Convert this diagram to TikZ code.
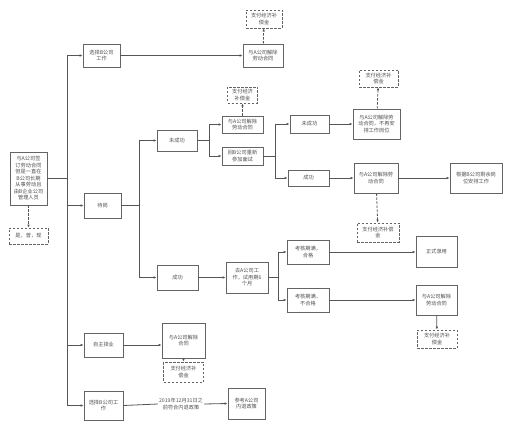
\documentclass[tikz,border=0pt]{standalone}
\usepackage{fontspec}
\newfontfamily\cjk{Noto Sans CJK SC}
\usetikzlibrary{arrows.meta, positioning, calc}
\definecolor{boxgray}{RGB}{100,100,100}
\definecolor{linegray}{RGB}{85,85,85}
\definecolor{textgray}{RGB}{80,80,80}
\tikzset{
    flowbox/.style={rectangle, draw=boxgray, fill=white, line width=0.8pt, align=center, font=\cjk\fontsize{5.2}{6.5}\selectfont, text=textgray, inner sep=1pt},
    paybox/.style={flowbox, dash pattern=on 2.5pt off 1.5pt},
    boxsize/.style 2 args={minimum width=#1pt, minimum height=#2pt},
    flowline/.style={linegray, line width=0.8pt},
    flowarrow/.style={-{Latex[length=3pt,width=2.6pt]}, flowline},
    payarrow/.style={flowarrow, dash pattern=on 2.5pt off 1.5pt},
    flowlabel/.style={font=\cjk\fontsize{5.2}{6.5}\selectfont, text=textgray, align=center, inner sep=1pt}
}

\begin{document}
\begin{tikzpicture}[x=1pt, y=-1pt]
\useasboundingbox (0,0) rectangle (511,430);

% root and its note
\node[flowbox, boxsize={37}{53}] (root) at (28.5,178.5) {与A公司签\\订劳动合同\\但是一直在\\B公司长期\\从事劳动且\\由B企业公司\\管理人员};
\node[paybox, boxsize={39}{16}] (rootnote) at (28.5,236) {是，曾，现};

% first level
\node[flowbox, boxsize={37}{23}] (selB1) at (101.5,55.5) {选择B公司\\工作};
\node[flowbox, boxsize={37}{25}] (wait) at (102.5,205.5) {待岗};
\node[flowbox, boxsize={39}{24}] (self) at (103.5,345) {自主择业};
\node[flowbox, boxsize={39}{29}] (selB2) at (103.5,405.5) {选择B公司工\\作};

% top branch
\node[flowbox, boxsize={40}{23}] (endA1) at (263,55.5) {与A公司解除\\劳动合同};
\node[paybox, boxsize={36}{18}] (pay1) at (264,19) {支付经济补\\偿金};

% waiting branch
\node[flowbox, boxsize={40}{21}] (fail1) at (177,140.5) {未成功};
\node[flowbox, boxsize={41}{17}] (endA2) at (242.5,124.5) {与A公司解除\\劳动合同};
\node[paybox, boxsize={30}{16}] (pay2) at (242.5,95) {支付经济\\补偿金};
\node[flowbox, boxsize={41}{18}] (retry) at (242.5,156) {回B公司重新\\参加面试};
\node[flowbox, boxsize={39}{18}] (fail2) at (309.5,124) {未成功};
\node[flowbox, boxsize={47}{30}] (endA3) at (376.5,124) {与A公司解除劳\\动合同，不再安\\排工作岗位};
\node[paybox, boxsize={39}{17}] (pay3) at (378.5,78.5) {支付经济补\\偿金};
\node[flowbox, boxsize={41}{16}] (succ2) at (308.5,178) {成功};
\node[flowbox, boxsize={44}{30}] (endA4) at (376,178) {与A公司解除劳\\动合同};
\node[flowbox, boxsize={52}{30}] (arrangeB) at (476,178) {根据B公司剩余岗\\位安排工作};
\node[paybox, boxsize={42}{19}] (pay4) at (378,232.5) {支付经济补偿\\金};

\node[flowbox, boxsize={41}{25}] (succ1) at (177.5,277.5) {成功};
\node[flowbox, boxsize={42}{31}] (trial) at (247,277.5) {去A公司工\\作，试用期6\\个月};
\node[flowbox, boxsize={42}{24}] (pass) at (308,252) {考核期满，\\合格};
\node[flowbox, boxsize={42}{24}] (fail3) at (308,300) {考核期满，\\不合格};
\node[flowbox, boxsize={41}{31}] (hire) at (436.5,252) {正式录用};
\node[flowbox, boxsize={41}{30}] (endA5) at (436.5,300) {与A公司解除\\劳动合同};
\node[paybox, boxsize={40}{18}] (pay5) at (437,339) {支付经济补\\偿金};

% self-employed branch
\node[flowbox, boxsize={43}{35}] (endA6) at (183.5,340.5) {与A公司解除\\合同};
\node[paybox, boxsize={40}{20}] (pay6) at (183.5,372) {支付经济补\\偿金};

% bottom branch
\node[flowlabel] (retire) at (181,404) {2019年12月31日之\\前符合内退政策};
\node[flowbox, boxsize={37}{31}] (ref) at (246.5,403.5) {参考A公司\\内退政策};

% forks
\coordinate (trunk) at (67,0);
\coordinate (waitfork) at (139,0);
\coordinate (failfork) at (209,0);
\coordinate (retryfork) at (275,0);
\coordinate (trialfork) at (278,0);

% connectors
\draw[payarrow] (root) -- (rootnote);
\draw[flowline] (root.east) -- (root.east -| trunk);
\draw[flowline] (selB1.west -| trunk) -- (selB2.west -| trunk);
\foreach \n in {selB1, wait, self, selB2}
    \draw[flowarrow] (\n.west -| trunk) -- (\n.west);

\draw[flowarrow] (selB1) -- (endA1);
\draw[payarrow] (endA1) -- (pay1);

\draw[flowline] (wait.east) -- (wait.east -| waitfork);
\draw[flowline] (fail1.west -| waitfork) -- (succ1.west -| waitfork);
\foreach \n in {fail1, succ1}
    \draw[flowarrow] (\n.west -| waitfork) -- (\n.west);

\draw[flowline] (fail1.east) -- (fail1.east -| failfork);
\draw[flowline] (endA2.west -| failfork) -- (retry.west -| failfork);
\foreach \n in {endA2, retry}
    \draw[flowarrow] (\n.west -| failfork) -- (\n.west);
\draw[payarrow] (endA2) -- (pay2);

\draw[flowline] (retry.east) -- (retry.east -| retryfork);
\draw[flowline] (fail2.west -| retryfork) -- (succ2.west -| retryfork);
\foreach \n in {fail2, succ2}
    \draw[flowarrow] (\n.west -| retryfork) -- (\n.west);
\draw[flowarrow] (fail2) -- (endA3);
\draw[payarrow] (endA3) -- (pay3);
\draw[flowarrow] (succ2) -- (endA4);
\draw[flowarrow] (endA4) -- (arrangeB);
\draw[payarrow] (endA4) -- (pay4);

\draw[flowarrow] (succ1) -- (trial);
\draw[flowline] (trial.east) -- (trial.east -| trialfork);
\draw[flowline] (pass.west -| trialfork) -- (fail3.west -| trialfork);
\foreach \n in {pass, fail3}
    \draw[flowarrow] (\n.west -| trialfork) -- (\n.west);
\draw[flowarrow] (pass) -- (hire);
\draw[flowarrow] (fail3) -- (endA5);
\draw[flowarrow] (endA5) -- (pay5);

\draw[flowarrow] (self.east) -- (self.east -| endA6.west);
\draw[flowarrow] (endA6) -- (pay6);

\draw[flowline] (selB2.east) -- (retire.west);
\draw[flowarrow] (retire.east) -- (ref.west);
\end{tikzpicture}
\end{document}
